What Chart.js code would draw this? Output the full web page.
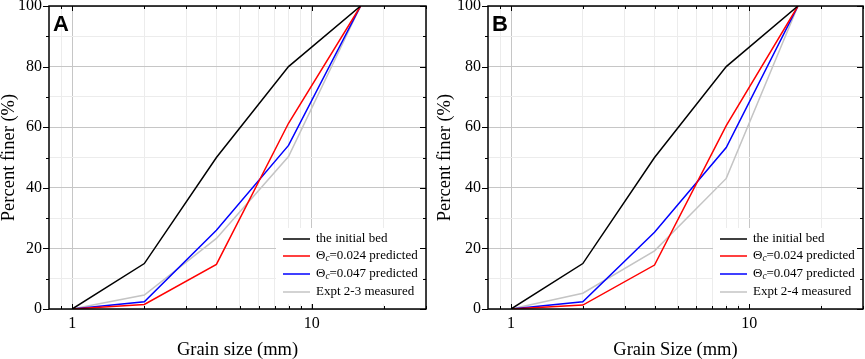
<!DOCTYPE html>
<html>
<head>
<meta charset="utf-8">
<script src="https://cdn.jsdelivr.net/npm/chart.js@4/dist/chart.umd.min.js"></script>
<style>
  html, body { margin: 0; padding: 0; background: #fff; }
  #wrap { position: relative; width: 865px; height: 359px; }
  canvas { position: absolute; top: 0; }
  #cA { left: 0; }
  #cB { left: 432px; }
</style>
</head>
<body>
<div id="wrap">
  <canvas id="cA" width="432" height="359"></canvas>
  <canvas id="cB" width="433" height="359"></canvas>
</div>
<script>
// ---------- data ----------
const grainSizes = [1, 2, 4, 8, 16];
const initialBed = [0, 15, 50, 80, 100];

const A_pred024 = [0, 1.5, 14.7, 61.3, 100];
const A_pred047 = [0, 2.4, 26, 54, 100];
const A_measured = [0, 4.6, 23.3, 50.3, 100];

const B_pred024 = [0, 1.3, 14.5, 60.5, 100];
const B_pred047 = [0, 2.4, 25.3, 53.3, 100];
const B_measured = [0, 5.2, 19.2, 43.1, 100];

const seriesLabels = ['the initial bed', 'Θc=0.024 predicted', 'Θc=0.047 predicted'];
const measuredLabelA = 'Expt 2-3 measured';
const measuredLabelB = 'Expt 2-4 measured';

const xTickValues = [0.9, 1, 2, 3, 4, 5, 6, 7, 8, 9, 10, 20, 30];
const xTickLabels = [1, 10];
const yTickValues = [0, 10, 20, 30, 40, 50, 60, 70, 80, 90, 100];
const yTickLabels = [0, 20, 40, 60, 80, 100];

const xTitleA = 'Grain size (mm)';
const xTitleB = 'Grain Size (mm)';
const yTitle = 'Percent finer (%)';

// ---------- styling ----------
Chart.defaults.font.family = '"Liberation Serif", "Times New Roman", serif';
Chart.defaults.color = '#000';
const SERIF = '"Liberation Serif", "Times New Roman", serif';
const colors = ['#000000', '#ff0000', '#0000ff', '#c4c4c4'];

function pts(ys) { return grainSizes.map((x, i) => ({ x: x, y: ys[i] })); }

function drawLegendLabel(ctx, text, x, y, size) {
  ctx.fillStyle = '#000';
  ctx.textBaseline = 'middle';
  ctx.textAlign = 'left';
  const normal = size + 'px ' + SERIF;
  if (text.startsWith('Θc')) {
    ctx.font = normal;
    ctx.fillText('Θ', x, y);
    let w = ctx.measureText('Θ').width;
    ctx.font = 'italic ' + (size * 0.72) + 'px ' + SERIF;
    ctx.fillText('c', x + w, y + 3);
    w += ctx.measureText('c').width;
    ctx.font = normal;
    ctx.fillText(text.slice(2), x + w, y);
  } else {
    ctx.font = normal;
    ctx.fillText(text, x, y);
  }
}

const decorPlugin = {
  id: 'decor',
  afterDatasetsDraw(chart, args, opts) {
    const ctx = chart.ctx;
    const a = chart.chartArea;
    ctx.save();
    ctx.fillStyle = '#fff';
    ctx.fillRect(a.right - 150, a.bottom - 81, 148, 76);
    const rowOffsets = [70, 53, 35, 17];
    chart.data.datasets.forEach((ds, i) => {
      const yy = a.bottom - rowOffsets[i];
      ctx.strokeStyle = ds.borderColor;
      ctx.lineWidth = 1.5;
      ctx.beginPath();
      ctx.moveTo(a.right - 143, yy);
      ctx.lineTo(a.right - 116, yy);
      ctx.stroke();
      drawLegendLabel(ctx, ds.label, a.right - 110, yy, 13);
    });
    ctx.restore();
  },
  afterDraw(chart, args, opts) {
    const ctx = chart.ctx;
    const a = chart.chartArea;
    const xs = chart.scales.x, ys = chart.scales.y;
    ctx.save();
    ctx.strokeStyle = '#000';
    ctx.lineWidth = 1;
    ctx.beginPath();
    xs.ticks.forEach(t => {
      const px = Math.round(xs.getPixelForValue(t.value)) + 0.5;
      const len = xTickLabels.includes(t.value) ? 5 : 3;
      ctx.moveTo(px, a.bottom); ctx.lineTo(px, a.bottom - len);
      ctx.moveTo(px, a.top); ctx.lineTo(px, a.top + len);
    });
    ys.ticks.forEach(t => {
      const py = Math.round(ys.getPixelForValue(t.value)) + 0.5;
      const len = yTickLabels.includes(t.value) ? 6 : 3;
      ctx.moveTo(a.left, py); ctx.lineTo(a.left - len, py);
      ctx.moveTo(a.right, py); ctx.lineTo(a.right - len, py);
    });
    ctx.stroke();
    ctx.lineWidth = 1.5;
    ctx.strokeRect(a.left, a.top, a.right - a.left, a.bottom - a.top);
    ctx.fillStyle = '#000';
    ctx.font = 'bold 22px "Liberation Sans", Arial, sans-serif';
    ctx.textBaseline = 'alphabetic';
    ctx.textAlign = 'left';
    ctx.fillText(opts.letter, a.left + 4, a.top + 25);
    ctx.restore();
  }
};

function makeChart(id, letter, s024, s047, sMeas, measLabel, xTitle, yAxisWidth, yTitlePad, rightPad) {
  const series = [initialBed, s024, s047, sMeas];
  const labels = seriesLabels.concat([measLabel]);
  return new Chart(document.getElementById(id), {
    type: 'line',
    data: {
      datasets: series.map((s, i) => ({
        label: labels[i],
        data: pts(s),
        borderColor: colors[i],
        backgroundColor: colors[i],
        borderWidth: 1.5,
        pointRadius: 0,
        tension: 0,
        fill: false
      }))
    },
    options: {
      responsive: false,
      animation: false,
      devicePixelRatio: 1,
      layout: { padding: { top: 6, right: rightPad, left: 0, bottom: 0 } },
      plugins: {
        legend: { display: false },
        tooltip: { enabled: false },
        decor: { letter: letter }
      },
      scales: {
        x: {
          type: 'logarithmic',
          min: 0.8,
          max: 30,
          afterBuildTicks(scale) { scale.ticks = xTickValues.map(v => ({ value: v })); },
          afterFit(scale) { scale.height = 50; scale.paddingLeft = 0; scale.paddingRight = 0; },
          ticks: {
            autoSkip: false,
            maxRotation: 0,
            padding: 5,
            font: { size: 16 },
            callback(v) { return xTickLabels.includes(v) ? String(v) : ''; }
          },
          grid: {
            drawTicks: false,
            lineWidth: 1,
            color(ctx) {
              const v = ctx.tick && ctx.tick.value;
              return xTickLabels.includes(v) ? '#c6c6c6' : '#ececec';
            }
          },
          border: { display: false },
          title: {
            display: true,
            text: xTitle,
            font: { size: 18.5, lineHeight: 1 },
            padding: { top: 0, bottom: 0 }
          }
        },
        y: {
          type: 'linear',
          min: 0,
          max: 100,
          afterBuildTicks(scale) { scale.ticks = yTickValues.map(v => ({ value: v })); },
          afterFit(scale) { scale.width = yAxisWidth; scale.paddingTop = 0; scale.paddingBottom = 0; },
          ticks: {
            autoSkip: false,
            padding: 7,
            font: { size: 16 },
            callback(v) { return yTickLabels.includes(v) ? String(v) : ''; }
          },
          grid: {
            drawTicks: false,
            lineWidth: 1,
            color(ctx) {
              const v = ctx.tick && ctx.tick.value;
              return yTickLabels.includes(v) ? '#c6c6c6' : '#ececec';
            }
          },
          border: { display: false },
          title: {
            display: true,
            text: yTitle,
            font: { size: 18.5, lineHeight: 1 },
            padding: { top: yTitlePad, bottom: 0 }
          }
        }
      }
    },
    plugins: [decorPlugin]
  });
}

makeChart('cA', 'A', A_pred024, A_pred047, A_measured, measuredLabelA, xTitleA, 49, 0, 6);
makeChart('cB', 'B', B_pred024, B_pred047, B_measured, measuredLabelB, xTitleB, 56, 4, 2);
</script>
</body>
</html>
